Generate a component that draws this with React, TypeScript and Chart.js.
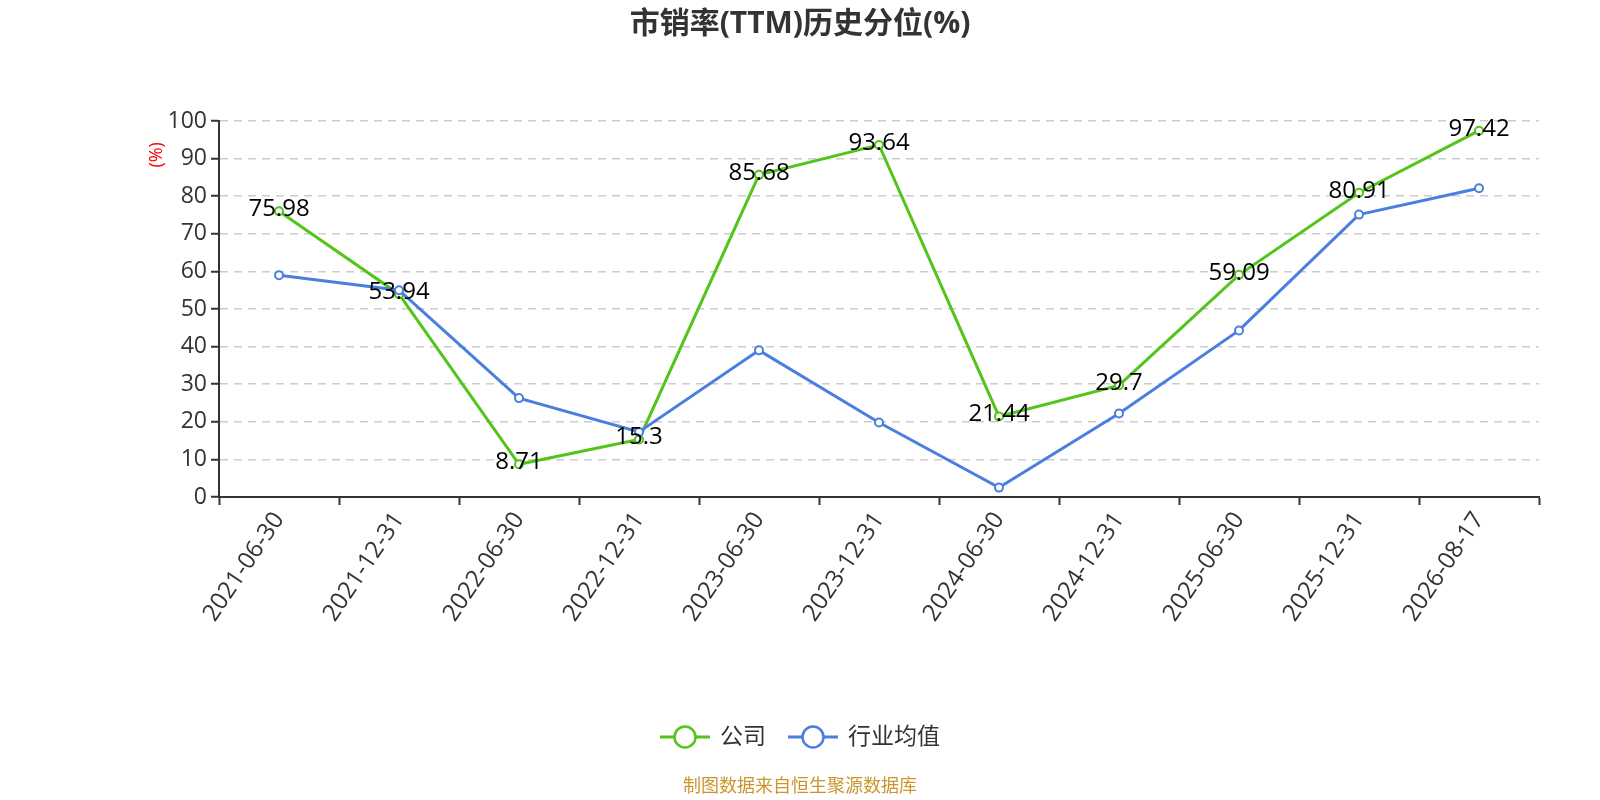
import React, { useEffect, useRef } from 'react'
import { Chart, registerables } from 'chart.js'

Chart.register(...registerables)

const dates = [
  '2021-06-30', '2021-12-31', '2022-06-30', '2022-12-31', '2023-06-30', '2023-12-31',
  '2024-06-30', '2024-12-31', '2025-06-30', '2025-12-31', '2026-08-17',
]
const companyValues = [75.98, 53.94, 8.71, 15.3, 85.68, 93.64, 21.44, 29.7, 59.09, 80.91, 97.42]
const industryValues = [59.0, 55.0, 26.3, 17.3, 39.0, 19.8, 2.5, 22.2, 44.3, 75.1, 82.1]
const seriesNames = ['公司', '行业均值']
const seriesColors = ['#52c41a', '#4a7fe0']

const TITLE = '市销率(TTM)历史分位(%)'
const SOURCE = '制图数据来自恒生聚源数据库'
const FONT = '"Open Sans", "Noto Sans CJK SC", sans-serif'

const decorPlugin = {
  id: 'decor',
  afterDatasetsDraw(chart: Chart) {
    const { ctx, chartArea, width } = chart
    ctx.save()

    // company value labels
    const meta = chart.getDatasetMeta(1)
    ctx.font = `24px ${FONT}`
    ctx.fillStyle = '#000'
    ctx.textAlign = 'center'
    ctx.textBaseline = 'middle'
    meta.data.forEach((pt: any, i: number) => {
      ctx.fillText(String(companyValues[i]), pt.x, pt.y - 2)
    })

    // title
    ctx.font = `bold 30px ${FONT}`
    ctx.fillStyle = '#333'
    ctx.fillText(TITLE, width / 2, 24)

    // unit on y axis
    const yScale = chart.scales.y
    ctx.save()
    ctx.translate(chartArea.left - 62, yScale.getPixelForValue(91))
    ctx.rotate(-Math.PI / 2)
    ctx.font = `18px ${FONT}`
    ctx.fillStyle = '#ff0000'
    ctx.fillText('(%)', 0, 0)
    ctx.restore()

    // legend
    ctx.font = `23px ${FONT}`
    const lineW = 50
    const gap = 10
    const itemGap = 22
    const widths = seriesNames.map(n => lineW + gap + ctx.measureText(n).width)
    const total = widths.reduce((a, b) => a + b, 0) + itemGap * (widths.length - 1)
    let x = width / 2 - total / 2
    const ly = 737
    seriesNames.forEach((name, i) => {
      ctx.strokeStyle = seriesColors[i]
      ctx.lineWidth = 3
      ctx.beginPath()
      ctx.moveTo(x, ly)
      ctx.lineTo(x + lineW, ly)
      ctx.stroke()
      ctx.beginPath()
      ctx.arc(x + lineW / 2, ly, 10.5, 0, Math.PI * 2)
      ctx.fillStyle = '#fff'
      ctx.fill()
      ctx.lineWidth = 2.5
      ctx.stroke()
      ctx.fillStyle = '#333'
      ctx.textAlign = 'left'
      ctx.fillText(name, x + lineW + gap, ly)
      x += widths[i] + itemGap
    })

    // source
    ctx.font = `18px ${FONT}`
    ctx.fillStyle = '#c9962e'
    ctx.textAlign = 'center'
    ctx.fillText(SOURCE, width / 2, 787)

    ctx.restore()
  },
}

export default function App() {
  const canvasRef = useRef<HTMLCanvasElement>(null)
  const chartRef = useRef<Chart | null>(null)

  useEffect(() => {
    document.body.style.margin = '0'
    if (!canvasRef.current) return
    chartRef.current?.destroy()

    chartRef.current = new Chart(canvasRef.current, {
      type: 'line',
      data: {
        labels: dates,
        datasets: [
          {
            label: seriesNames[1],
            data: industryValues,
            borderColor: seriesColors[1],
            backgroundColor: '#fff',
            borderWidth: 3,
            pointRadius: 4,
            pointBorderWidth: 2,
            pointBackgroundColor: '#fff',
            pointBorderColor: seriesColors[1],
            tension: 0,
            order: 0,
          },
          {
            label: seriesNames[0],
            data: companyValues,
            borderColor: seriesColors[0],
            backgroundColor: '#fff',
            borderWidth: 3,
            pointRadius: 4,
            pointBorderWidth: 2,
            pointBackgroundColor: '#fff',
            pointBorderColor: seriesColors[0],
            tension: 0,
            order: 1,
          },
        ],
      },
      options: {
        responsive: false,
        animation: false,
        layout: { padding: { top: 121, right: 61, left: 0, bottom: 0 } },
        plugins: {
          legend: { display: false },
          title: { display: false },
          tooltip: { enabled: false },
        },
        scales: {
          x: {
            offset: true,
            grid: {
              offset: true,
              drawOnChartArea: false,
              tickLength: 8,
              tickColor: '#333',
              tickWidth: 2,
            },
            border: { color: '#333', width: 2 },
            ticks: {
              color: '#333',
              font: { size: 24, family: FONT },
              minRotation: 56,
              maxRotation: 56,
              autoSkip: false,
              padding: 2,
            },
            afterFit: (scale: any) => {
              scale.height = 303
            },
          },
          y: {
            min: 0,
            max: 100,
            grid: {
              color: '#cccccc',
              lineWidth: 1.5,
              tickLength: 8,
              tickColor: '#333',
              tickWidth: 2,
            },
            border: { color: '#333', width: 2, dash: [8, 6] },
            ticks: {
              stepSize: 10,
              color: '#333',
              font: { size: 23, family: FONT },
              padding: 4,
            },
            afterFit: (scale: any) => {
              scale.width = 219
            },
          },
        },
      },
      plugins: [decorPlugin],
    })

    return () => {
      chartRef.current?.destroy()
      chartRef.current = null
    }
  }, [])

  return (
    <div style={{ width: 1600, height: 800 }}>
      <canvas ref={canvasRef} width={1600} height={800} />
    </div>
  )
}
